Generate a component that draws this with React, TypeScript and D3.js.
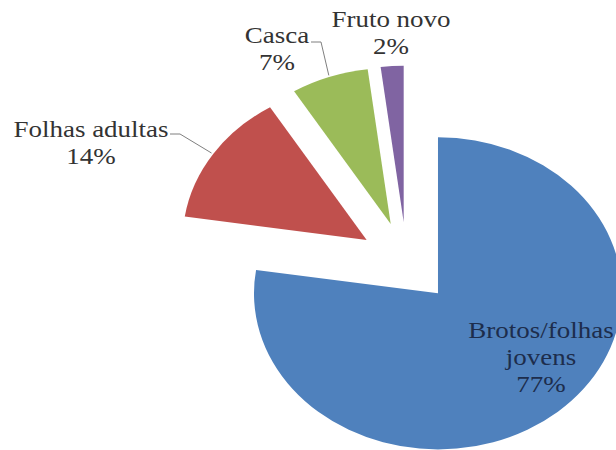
import React from "react";
import * as d3 from "d3";

const categories = ["Brotos/folhas jovens", "Folhas adultas", "Casca", "Fruto novo"];
const values = [77.4, 13.8, 6.8, 2.0];
const labelLines = [["Brotos/folhas", "jovens"], ["Folhas adultas"], ["Casca"], ["Fruto novo"]];
const colors = ["#4F81BD", "#C0504D", "#9BBB59", "#8064A2"];

const W = 616;
const H = 450;
const CX = 406.7;
const CY = 262.5;
const SY = 0.848;
const R = 184;
const EXPLODE = 48;
const FONT = 27;
const LINE = 27;
const FONT_FAMILY = '"Liberation Serif", "Times New Roman", Times, "DejaVu Serif", serif';

// label anchor (center x, first baseline y) in screen coords
const labelPos: [number, number][] = [
  [541, 338],
  [91, 136.5],
  [277, 43.3],
  [391, 26.7],
];
const textColors = ["#1d2d4c", "#333333", "#333333", "#333333"];
// leader line start points (label side) for outside labels; null = no leader
const leaderStart: ([number, number] | null)[] = [null, [170, 134], [311, 42], null];
const leaderElbow = 10;

export default function App() {
  const pie = d3.pie<number>().sort(null).value((d) => d).startAngle(0).endAngle(2 * Math.PI);
  const arcs = pie(values);
  const arc = d3.arc<d3.PieArcDatum<number>>().innerRadius(0).outerRadius(R);
  const total = d3.sum(values);

  const toScreen = (x: number, y: number): [number, number] => [CX + x, CY + y * SY];

  return (
    <svg
      width={W}
      height={H}
      style={{ position: "absolute", left: 0, top: 0, display: "block", background: "#fff" }}
    >
      <g transform={`translate(${CX},${CY}) scale(1,${SY})`}>
        {arcs.map((a, i) => {
          const mid = (a.startAngle + a.endAngle) / 2;
          const ox = Math.sin(mid) * EXPLODE;
          const oy = -Math.cos(mid) * EXPLODE;
          return (
            <path
              key={categories[i]}
              d={arc(a) || ""}
              transform={`translate(${ox},${oy})`}
              fill={colors[i]}
            />
          );
        })}
      </g>
      {arcs.map((a, i) => {
        const s = leaderStart[i];
        if (!s) return null;
        const mid = (a.startAngle + a.endAngle) / 2;
        const rr = R + 2;
        const ex = Math.sin(mid) * (EXPLODE + rr);
        const ey = -Math.cos(mid) * (EXPLODE + rr);
        const [px, py] = toScreen(ex, ey);
        const pts: [number, number][] = [s, [s[0] + leaderElbow, s[1]], [px, py]];
        return (
          <path
            key={"l" + i}
            d={d3.line()(pts) || ""}
            fill="none"
            stroke="#7f7f7f"
            strokeWidth={1}
          />
        );
      })}
      {arcs.map((a, i) => {
        const [x, y] = labelPos[i];
        const lines = [...labelLines[i], `${Math.round((values[i] / total) * 100)}%`];
        return (
          <g key={"t" + i}>
            {lines.map((t, j) => (
              <text
                key={j}
                transform={`translate(${x},${y + j * LINE}) scale(1,${SY})`}
                textAnchor="middle"
                style={{ fontFamily: FONT_FAMILY, fontSize: FONT }}
                fill={textColors[i]}
              >
                {t}
              </text>
            ))}
          </g>
        );
      })}
    </svg>
  );
}
